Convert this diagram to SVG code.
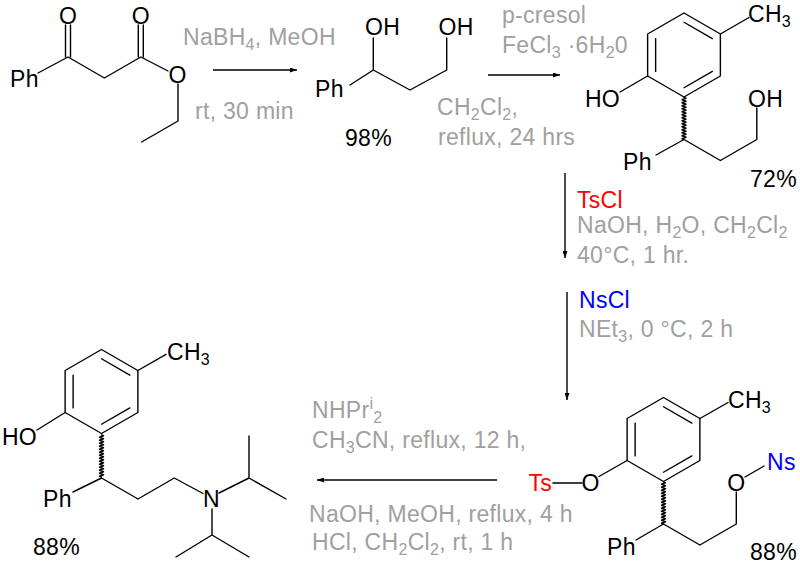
<svg xmlns="http://www.w3.org/2000/svg" xmlns:xlink="http://www.w3.org/1999/xlink" width="800" height="571" viewBox="0 0 800 571">
<style>
text{font-family:"Liberation Sans",Arial,sans-serif;font-size:23px;letter-spacing:0.3px;fill:#000}
.g{fill:#a0a0a0}
.r{fill:#ff0000}
.b{fill:#0000ff}
.s{font-size:16px}
.bd{stroke:#000;stroke-width:1.4;fill:none;stroke-linecap:round;stroke-linejoin:round}
.ar{stroke:#000;stroke-width:1.4;fill:none}
</style>
<defs>
<marker id="ah" viewBox="0 0 7 5" refX="7" refY="2.5" markerWidth="7" markerHeight="5" markerUnits="userSpaceOnUse" orient="auto">
<path d="M0,0 L7,2.5 L0,5 Z" fill="#000"/>
</marker>
<g id="ring">
<polygon class="bd" points="0,-42 36.37,-21 36.37,21 0,42 -36.37,21 -36.37,-21"/>
<path class="bd" d="M-28.37,-16.38 L-28.37,16.38 M0,-32.76 L28.37,-16.38 M28.37,16.38 L0,32.76"/>
</g>
<path id="wavy" class="bd" stroke-width="1" d="M0,0 l2,0.75 l-4,1.5 l4,1.5 l-4,1.5 l4,1.5 l-4,1.5 l4,1.5 l-4,1.5 l4,1.5 l-4,1.5 l4,1.5 l-4,1.5 l4,1.5 l-4,1.5 l4,1.5 l-4,1.5 l4,1.5 l-4,1.5 l4,1.5 l-4,1.5 l4,1.5 l-4,1.5 l4,1.5 l-4,1.5 l4,1.5 l-4,1.5 l4,1.5 l-4,1.5 l2,0.75"/>
</defs>

<g id="connectors">
<line class="ar" x1="213" y1="70" x2="297" y2="70" marker-end="url(#ah)"/>
<line class="ar" x1="488" y1="75" x2="560" y2="75" marker-end="url(#ah)"/>
<line class="ar" x1="565" y1="173" x2="565" y2="258" marker-end="url(#ah)"/>
<line class="ar" x1="567" y1="292" x2="567" y2="400" marker-end="url(#ah)"/>
<line class="ar" x1="497" y1="480" x2="317" y2="480" marker-end="url(#ah)"/>
</g>

<g id="ketoester">
<path class="bd" d="M38,73 L68,57 L104.4,78 L140.8,57 L168,71 M178,84 L178,121 L141.6,142"/>
<path class="bd" d="M65.5,57 L65.5,25 M70.5,57 L70.5,25 M138.3,57 L138.3,25 M143.3,57 L143.3,25"/>
<text x="10" y="87">Ph</text>
<text x="68" y="24" text-anchor="middle">O</text>
<text x="140.8" y="24" text-anchor="middle">O</text>
<text x="177.5" y="83" text-anchor="middle">O</text>
</g>

<g id="reagents-1">
<text class="g" x="183" y="45">NaBH<tspan class="s" dy="5">4</tspan><tspan dy="-5">, MeOH</tspan></text>
<text class="g" x="195" y="119">rt, 30 min</text>
</g>

<g id="diol">
<path class="bd" d="M350,85 L373.3,70 L410,90 L446.7,70 L446.7,38 M373.3,70 L373.3,38"/>
<text x="315" y="97">Ph</text>
<text x="365" y="35">OH</text>
<text x="438.5" y="35">OH</text>
<text x="345" y="146">98%</text>
</g>

<g id="reagents-2">
<text class="g" x="502" y="23">p-cresol</text>
<text class="g" x="502" y="53">FeCl<tspan class="s" dy="5">3</tspan><tspan dy="-5"> ·6H</tspan><tspan class="s" dy="5">2</tspan><tspan dy="-5">0</tspan></text>
<text class="g" x="437" y="115">CH<tspan class="s" dy="5">2</tspan><tspan dy="-5">Cl</tspan><tspan class="s" dy="5">2</tspan><tspan dy="-5">,</tspan></text>
<text class="g" x="438" y="145">reflux, 24 hrs</text>
</g>

<g id="phenol-alcohol">
<use xlink:href="#ring" transform="translate(684,55)"/>
<path class="bd" d="M720.4,34 L749,17.5 M647.6,76 L620,92 M684,139.5 L656,155 M684,139.5 L720.4,160.5 L756.8,139.5 L756.8,108"/>
<use xlink:href="#wavy" transform="translate(684,97.5)"/>
<text x="748" y="22">CH<tspan class="s" dy="5">3</tspan></text>
<text x="620" y="107" text-anchor="end">HO</text>
<text x="623" y="170">Ph</text>
<text x="748" y="107">OH</text>
<text x="750" y="187">72%</text>
</g>

<g id="reagents-3">
<text class="r" x="577" y="208">TsCl</text>
<text class="g" x="577" y="233">NaOH, H<tspan class="s" dy="5">2</tspan><tspan dy="-5">O, CH</tspan><tspan class="s" dy="5">2</tspan><tspan dy="-5">Cl</tspan><tspan class="s" dy="5">2</tspan></text>
<text class="g" x="577" y="263">40°C, 1 hr.</text>
</g>

<g id="reagents-4">
<text class="b" x="579" y="308">NsCl</text>
<text class="g" x="579" y="337">NEt<tspan class="s" dy="5">3</tspan><tspan dy="-5">, 0 °C, 2 h</tspan></text>
</g>

<g id="tosyl-nosyl">
<use xlink:href="#ring" transform="translate(663.5,439.5)"/>
<path class="bd" d="M699.9,418.5 L728,402.5 M627.1,460.5 L599,476.5 M553,483 L582,483 M663.5,524 L636,540 M663.5,524 L699.9,545 L736.3,524 L736.3,492 M745,477 L764,466"/>
<use xlink:href="#wavy" transform="translate(663.5,482)"/>
<text x="728" y="408">CH<tspan class="s" dy="5">3</tspan></text>
<text x="590.7" y="491" text-anchor="middle">O</text>
<text class="r" x="552" y="491" text-anchor="end">Ts</text>
<text x="607" y="555">Ph</text>
<text x="736.3" y="491" text-anchor="middle">O</text>
<text class="b" x="767" y="470">Ns</text>
<text x="750" y="560">88%</text>
</g>

<g id="reagents-5">
<text class="g" x="312" y="418">NHPr<tspan class="s" dy="-9">i</tspan><tspan class="s" dy="14">2</tspan></text>
<text class="g" x="312" y="448">CH<tspan class="s" dy="5">3</tspan><tspan dy="-5">CN, reflux, 12 h,</tspan></text>
<text class="g" x="309" y="522">NaOH, MeOH, reflux, 4 h</text>
<text class="g" x="312" y="550">HCl, CH<tspan class="s" dy="5">2</tspan><tspan dy="-5">Cl</tspan><tspan class="s" dy="5">2</tspan><tspan dy="-5">, rt, 1 h</tspan></text>
</g>

<g id="amine-product">
<use xlink:href="#ring" transform="translate(101.5,391.5)"/>
<path class="bd" d="M137.9,370.5 L166,354.3 M65.1,412.5 L37,430 M101.5,478 L73,492 M101.5,478 L138,499 L174.3,478 L203,493.5 M219,493 L249,478 L249,436 M249,478 L286,499 M212,509 L212,535 L176,557 M212,535 L249,557"/>
<use xlink:href="#wavy" transform="translate(101.5,435)"/>
<text x="167" y="360">CH<tspan class="s" dy="5">3</tspan></text>
<text x="37" y="445" text-anchor="end">HO</text>
<text x="43" y="507">Ph</text>
<text x="211.5" y="507" text-anchor="middle">N</text>
<text x="33" y="555">88%</text>
</g>
</svg>
